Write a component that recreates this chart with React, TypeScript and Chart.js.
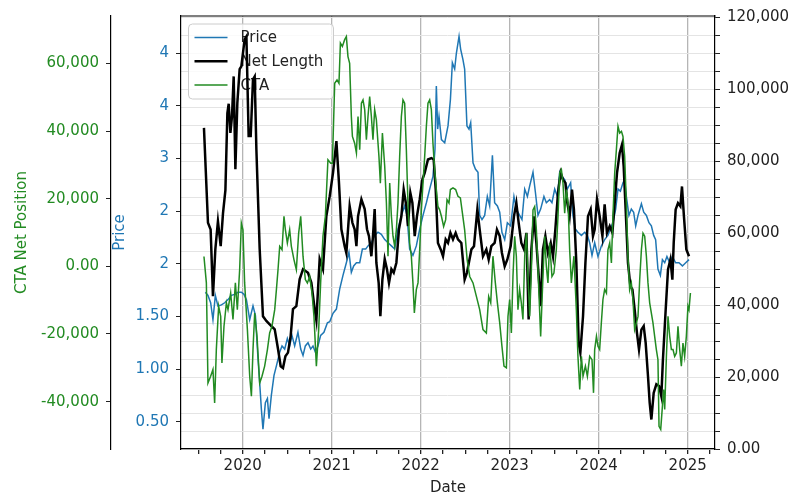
import { useEffect, useRef } from "react";
import { Chart, registerables } from "chart.js";

Chart.register(...registerables);

// ---------- data (decimal-year dates) ----------
const priceDates = [
  2019.581, 2019.61, 2019.64, 2019.666, 2019.693, 2019.722, 2019.761, 2019.798, 2019.835, 2019.873,
  2019.91, 2019.947, 2019.985, 2020.015, 2020.042, 2020.079, 2020.116, 2020.143, 2020.172, 2020.191,
  2020.21, 2020.228, 2020.255, 2020.278, 2020.296, 2020.322, 2020.352, 2020.379, 2020.416, 2020.442,
  2020.472, 2020.502, 2020.528, 2020.554, 2020.584, 2020.621, 2020.652, 2020.678, 2020.704, 2020.734,
  2020.764, 2020.79, 2020.817, 2020.846, 2020.876, 2020.913, 2020.952, 2020.978, 2021.015, 2021.053,
  2021.09, 2021.127, 2021.165, 2021.194, 2021.221, 2021.247, 2021.278, 2021.315, 2021.345, 2021.382,
  2021.408, 2021.446, 2021.483, 2021.52, 2021.558, 2021.596, 2021.633, 2021.671, 2021.708, 2021.745,
  2021.783, 2021.82, 2021.846, 2021.876, 2021.913, 2021.951, 2021.989, 2022.026, 2022.064, 2022.101,
  2022.138, 2022.161, 2022.176, 2022.191, 2022.206, 2022.233, 2022.27, 2022.307, 2022.334, 2022.356,
  2022.382, 2022.401, 2022.431, 2022.449, 2022.475, 2022.494, 2022.52, 2022.543, 2022.562, 2022.588,
  2022.615, 2022.644, 2022.663, 2022.689, 2022.719, 2022.749, 2022.775, 2022.806, 2022.831, 2022.862,
  2022.888, 2022.913, 2022.944, 2022.974, 2023.011, 2023.048, 2023.075, 2023.112, 2023.138, 2023.169,
  2023.199, 2023.225, 2023.262, 2023.289, 2023.318, 2023.348, 2023.385, 2023.412, 2023.449, 2023.475,
  2023.506, 2023.536, 2023.562, 2023.588, 2023.618, 2023.648, 2023.685, 2023.711, 2023.738, 2023.767,
  2023.806, 2023.843, 2023.873, 2023.899, 2023.925, 2023.955, 2023.992, 2024.03, 2024.067, 2024.104,
  2024.131, 2024.16, 2024.191, 2024.217, 2024.244, 2024.273, 2024.292, 2024.311, 2024.34, 2024.367,
  2024.393, 2024.416, 2024.442, 2024.48, 2024.506, 2024.536, 2024.565, 2024.592, 2024.618, 2024.64,
  2024.666, 2024.693, 2024.716, 2024.742, 2024.767, 2024.798, 2024.828, 2024.865, 2024.902, 2024.941,
  2024.978, 2025.015,
];
const priceValues = [
  1.73, 1.7, 1.63, 1.47, 1.7, 1.6, 1.61, 1.63, 1.66, 1.7,
  1.71, 1.73, 1.73, 1.71, 1.66, 1.47, 1.6, 1.51, 1.1, 0.87,
  0.62, 0.43, 0.68, 0.72, 0.53, 0.75, 0.94, 1.03, 1.16, 1.22,
  1.19, 1.29, 1.22, 1.32, 1.22, 1.35, 1.19, 1.13, 1.22, 1.25,
  1.19, 1.22, 1.16, 1.22, 1.32, 1.35, 1.44, 1.45, 1.53, 1.57,
  1.76, 1.89, 2.01, 2.11, 1.92, 1.98, 2.01, 2.01, 2.14, 2.14,
  2.17, 2.2, 2.27, 2.3, 2.28, 2.23, 2.2, 2.17, 2.14, 2.33,
  2.46, 2.55, 2.46, 2.14, 2.08, 2.17, 2.33, 2.46, 2.58, 2.71,
  2.83, 3.09, 3.69, 3.28, 3.4, 3.18, 3.15, 3.31, 3.56, 3.91,
  3.85, 4.0, 4.16, 4.04, 3.94, 3.85, 3.31, 3.28, 3.34, 2.96,
  2.9, 2.87, 2.46, 2.42, 2.46, 2.64, 2.55, 3.03, 2.58, 2.55,
  2.49, 2.3, 2.23, 2.39, 2.36, 2.64, 2.52, 2.46, 2.42, 2.71,
  2.64, 2.74, 2.87, 2.68, 2.46, 2.52, 2.64, 2.58, 2.61, 2.58,
  2.71, 2.64, 2.87, 2.83, 2.8, 2.71, 2.77, 2.46, 2.33, 2.3,
  2.27, 2.3, 2.27, 2.2, 2.08, 2.2, 2.07, 2.17, 2.23, 2.27,
  2.33, 2.39, 2.52, 2.71, 2.69, 2.77, 2.8, 2.64, 2.46, 2.52,
  2.49, 2.36, 2.46, 2.57, 2.49, 2.46, 2.39, 2.36, 2.27, 2.23,
  1.95, 1.89, 2.04, 2.01, 2.07, 2.01, 2.07, 2.01, 2.01, 1.98,
  2.01, 2.04,
];

const netLengthDates = [
  2019.565, 2019.61, 2019.64, 2019.666, 2019.693, 2019.722, 2019.753, 2019.779, 2019.806, 2019.828,
  2019.843, 2019.862, 2019.88, 2019.899, 2019.918, 2019.94, 2019.966, 2019.985, 2020.022, 2020.042,
  2020.067, 2020.09, 2020.116, 2020.135, 2020.154, 2020.191, 2020.228, 2020.266, 2020.322, 2020.36,
  2020.397, 2020.427, 2020.453, 2020.48, 2020.509, 2020.539, 2020.565, 2020.603, 2020.64, 2020.678,
  2020.734, 2020.772, 2020.809, 2020.828, 2020.865, 2020.902, 2020.94, 2020.978, 2021.015, 2021.053,
  2021.082, 2021.109, 2021.146, 2021.165, 2021.202, 2021.233, 2021.258, 2021.278, 2021.296, 2021.334,
  2021.371, 2021.397, 2021.419, 2021.446, 2021.464, 2021.483, 2021.502, 2021.528, 2021.547, 2021.57,
  2021.596, 2021.621, 2021.644, 2021.671, 2021.697, 2021.727, 2021.756, 2021.783, 2021.809, 2021.839,
  2021.857, 2021.884, 2021.907, 2021.933, 2021.958, 2021.989, 2022.019, 2022.045, 2022.082, 2022.12,
  2022.146, 2022.169, 2022.194, 2022.225, 2022.251, 2022.281, 2022.307, 2022.334, 2022.363, 2022.393,
  2022.419, 2022.457, 2022.494, 2022.52, 2022.57, 2022.599, 2022.637, 2022.663, 2022.7, 2022.738,
  2022.764, 2022.794, 2022.831, 2022.857, 2022.888, 2022.913, 2022.944, 2022.974, 2023.011, 2023.048,
  2023.075, 2023.101, 2023.131, 2023.161, 2023.188, 2023.213, 2023.244, 2023.273, 2023.3, 2023.326,
  2023.348, 2023.374, 2023.401, 2023.43, 2023.461, 2023.487, 2023.513, 2023.543, 2023.573, 2023.599,
  2023.626, 2023.648, 2023.674, 2023.7, 2023.722, 2023.749, 2023.775, 2023.794, 2023.824, 2023.851,
  2023.88, 2023.91, 2023.936, 2023.955, 2023.981, 2024.011, 2024.042, 2024.067, 2024.093, 2024.124,
  2024.154, 2024.18, 2024.206, 2024.236, 2024.262, 2024.281, 2024.303, 2024.329, 2024.356, 2024.379,
  2024.404, 2024.43, 2024.453, 2024.48, 2024.506, 2024.528, 2024.554, 2024.573, 2024.592, 2024.618,
  2024.648, 2024.678, 2024.704, 2024.722, 2024.753, 2024.779, 2024.806, 2024.828, 2024.843, 2024.865,
  2024.891, 2024.918, 2024.936, 2024.958, 2024.985, 2025.015,
];
const netLengthValues = [
  89300, 62900, 61000, 42500, 55600, 63300, 56400, 65600, 72000, 93400,
  96000, 87900, 92500, 103600, 77800, 96200, 105600, 106400, 113900, 114700,
  87000, 87000, 102800, 103600, 83300, 55600, 36900, 35600, 34200, 33300,
  27800, 23000, 22500, 25800, 26800, 31400, 38900, 39700, 47200, 50000,
  49000, 46200, 38900, 35800, 52800, 50000, 64700, 70300, 76800, 85600,
  74000, 61100, 56400, 54500, 67500, 62900, 61100, 56400, 64700, 69400,
  66700, 61100, 59200, 53600, 59200, 66700, 51800, 46200, 36900, 47200,
  52800, 50000, 46200, 50000, 49000, 51800, 61100, 64700, 72100, 67500,
  62000, 71200, 68400, 59200, 64700, 69400, 74900, 76800, 80500, 80900,
  80500, 72100, 57300, 55500, 53600, 58300, 57300, 60100, 58300, 60100,
  58300, 57300, 47100, 49000, 55500, 56400, 66600, 61000, 53600, 55500,
  52700, 56400, 57300, 61000, 59200, 54500, 50800, 52700, 56400, 64700,
  68400, 62900, 57300, 55500, 60100, 36000, 55500, 64700, 57300, 48100,
  39700, 55500, 59200, 54500, 57300, 53600, 61000, 71200, 76800, 74900,
  74000, 68400, 64700, 72100, 66600, 51800, 29500, 26800, 36900, 51800,
  64700, 66600, 59200, 61000, 69400, 64700, 59200, 68000, 60100, 62000,
  60100, 68400, 76800, 82300, 84600, 78600, 66600, 51800, 45300, 44400,
  38800, 32300, 27700, 33200, 34200, 29500, 20300, 12900, 8200, 15600,
  18000, 17500, 14700, 24900, 38800, 49900, 52700, 47100, 57300, 66600,
  68400, 67500, 73000, 64700, 55500, 53600,
];

const ctaDates = [
  2019.565, 2019.592, 2019.61, 2019.64, 2019.666, 2019.685, 2019.704, 2019.73, 2019.753, 2019.767,
  2019.79, 2019.817, 2019.835, 2019.865, 2019.891, 2019.918, 2019.94, 2019.966, 2019.985, 2020.003,
  2020.022, 2020.053, 2020.079, 2020.098, 2020.116, 2020.135, 2020.161, 2020.191, 2020.217, 2020.247,
  2020.278, 2020.303, 2020.329, 2020.36, 2020.379, 2020.397, 2020.416, 2020.442, 2020.464, 2020.48,
  2020.502, 2020.528, 2020.547, 2020.576, 2020.603, 2020.629, 2020.652, 2020.678, 2020.704, 2020.727,
  2020.753, 2020.779, 2020.801, 2020.828, 2020.854, 2020.876, 2020.902, 2020.929, 2020.958, 2020.989,
  2021.008, 2021.034, 2021.06, 2021.082, 2021.098, 2021.12, 2021.146, 2021.165, 2021.183, 2021.202,
  2021.221, 2021.233, 2021.258, 2021.278, 2021.296, 2021.315, 2021.334, 2021.352, 2021.371, 2021.39,
  2021.408, 2021.427, 2021.446, 2021.464, 2021.483, 2021.502, 2021.531, 2021.547, 2021.57, 2021.596,
  2021.615, 2021.633, 2021.652, 2021.671, 2021.689, 2021.708, 2021.727, 2021.745, 2021.764, 2021.783,
  2021.801, 2021.82, 2021.839, 2021.857, 2021.876, 2021.895, 2021.913, 2021.929, 2021.951, 2021.97,
  2021.989, 2022.008, 2022.026, 2022.045, 2022.064, 2022.082, 2022.101, 2022.12, 2022.138, 2022.157,
  2022.176, 2022.194, 2022.213, 2022.233, 2022.258, 2022.281, 2022.296, 2022.318, 2022.334, 2022.363,
  2022.393, 2022.419, 2022.446, 2022.469, 2022.494, 2022.522, 2022.551, 2022.588, 2022.626, 2022.663,
  2022.7, 2022.738, 2022.764, 2022.787, 2022.812, 2022.839, 2022.862, 2022.888, 2022.913, 2022.936,
  2022.963, 2022.981, 2023.0, 2023.019, 2023.037, 2023.056, 2023.075, 2023.093, 2023.112, 2023.131,
  2023.149, 2023.169, 2023.188, 2023.206, 2023.225, 2023.244, 2023.262, 2023.281, 2023.3, 2023.318,
  2023.348, 2023.374, 2023.393, 2023.412, 2023.43, 2023.449, 2023.475, 2023.497, 2023.524, 2023.543,
  2023.562, 2023.581, 2023.599, 2023.618, 2023.637, 2023.656, 2023.674, 2023.693, 2023.722, 2023.749,
  2023.767, 2023.787, 2023.806, 2023.824, 2023.851, 2023.873, 2023.899, 2023.925, 2023.942, 2023.955,
  2023.975, 2023.992, 2024.011, 2024.03, 2024.048, 2024.067, 2024.087, 2024.104, 2024.124, 2024.143,
  2024.16, 2024.18, 2024.199, 2024.217, 2024.236, 2024.256, 2024.273, 2024.292, 2024.311, 2024.329,
  2024.348, 2024.367, 2024.385, 2024.404, 2024.424, 2024.442, 2024.461, 2024.48, 2024.498, 2024.517,
  2024.536, 2024.554, 2024.573, 2024.61, 2024.629, 2024.648, 2024.666, 2024.678, 2024.697, 2024.716,
  2024.73, 2024.742, 2024.761, 2024.779, 2024.798, 2024.817, 2024.835, 2024.854, 2024.873, 2024.891,
  2024.91, 2024.929, 2024.947, 2024.966, 2024.985, 2025.003, 2025.015, 2025.031,
];
const ctaValues = [
  2900, -4900, -34500, -32500, -30500, -40400, -24600, -11800, -14800, -28600,
  -17700, -10800, -12800, -7900, -15700, -4900, -12800, -1000, 12800, 10800,
  -4900, -18700, -32500, -38400, -24600, -13800, -20700, -34500, -32500, -29500,
  -24600, -19700, -17700, -12800, -6900, -1000, 5900, 4900, 14800, 10800,
  6900, 10800, 5900, 2000, -1000, 9800, 14800, 3000, -3900, -4900,
  -3000, -7900, -14800, -29500, -18700, -4900, 8900, 14800, 31500, 30500,
  30500, 54100, 55100, 54100, 66000, 65000, 67000, 67900, 62000, 60000,
  44300, 38400, 36400, 33500, 44300, 34500, 48200, 49200, 46300, 37400,
  44300, 50200, 44300, 37400, 46300, 43400, 32500, 24600, 39400, 29500,
  18700, 3000, 24600, 14800, 8900, 5900, 10800, 18700, 32500, 44300,
  49200, 48200, 34500, 18700, 6900, 3000, -4900, -13800, -6900, -4900,
  4900, 16700, 24600, 32500, 41400, 48200, 49200, 46300, 36400, 28600,
  22700, 17700, 16700, 14800, 11800, 13800, 19700, 18700, 22700, 23200,
  22700, 20700, 20200, 15700, 10800, 2000, -3000, -4900, -8900, -12800,
  -18700, -19700, -8900, -10800, 3000, -4900, -10800, -16700, -23600, -29500,
  -30000, -14800, -9800, -19700, -3000, 8900, 3000, -12800, -6900, -10800,
  -15700, 3000, 9800, -3000, -14800, -1000, 16700, 17700, 10800, -1000,
  -20700, -3000, 8900, 0, -4900, 6900, -3000, -2000, 4900, 14800,
  27600, 28600, 24600, 15700, 22700, 18700, 4900, -4900, 3000, -12800,
  -26600, -36400, -26600, -32500, -29500, -32500, -26600, -27600, -37400, -24600,
  -20700, -23600, -24600, -16700, -9800, -6900, -7900, 4900, 6900, 1000,
  14800, 27600, 34500, 41400, 39400, 39900, 38400, 32500, 18700, 3000,
  -6900, -4900, -9800, -18700, -16700, -14800, -3900, 4900, 9800, 8900,
  3000, -4900, -10800, -16700, -20700, -24600, -27600, -47300, -48200, -41400,
  -36400, -42300, -26600, -14800, -20700, -24600, -24600, -26600, -25600, -17700,
  -24600, -29500, -22700, -26600, -20700, -11800, -12800, -7900,
];

// ---------- tick values / labels ----------
const yearTicks = [2020, 2021, 2022, 2023, 2024, 2025];
const quarterTicks = [
  2019.5, 2019.75, 2020, 2020.25, 2020.5, 2020.75, 2021, 2021.25, 2021.5, 2021.75,
  2022, 2022.25, 2022.5, 2022.75, 2023, 2023.25, 2023.5, 2023.75, 2024, 2024.25,
  2024.5, 2024.75, 2025, 2025.25,
];
const priceTickValues = [0.5, 1, 1.5, 2, 2.5, 3, 3.5, 4];
const priceTickLabels = ["0.50", "1.00", "1.50", "2", "2", "3", "4", "4"];
const ctaTickValues = [-40000, -20000, 0, 20000, 40000, 60000];
const ctaTickLabels = ["-40,000", "-20,000", "0.00", "20,000", "40,000", "60,000"];
const netMajorTicks = [0, 20000, 40000, 60000, 80000, 100000, 120000];
const netMajorLabels = ["0.00", "20,000", "40,000", "60,000", "80,000", "100,000", "120,000"];
const netMinorStep = 5000;

const seriesLabels = ["Price", "Net Length", "CTA"];

const PRICE_COLOR = "#1f77b4";
const NET_COLOR = "#000000";
const CTA_COLOR = "#228b22";
const TEXT_COLOR = "#222222";

const near = (a: number, b: number) => Math.abs(a - b) < 1e-6;
const labelFor = (vals: number[], labels: string[], v: number) => {
  const i = vals.findIndex((p) => near(p, v));
  return i >= 0 ? labels[i] : "";
};
const setTicks = (vals: number[]) => (s: any) => {
  s.ticks = vals.map((value) => ({ value }));
};
const netTickValues: number[] = [];
for (let v = netMajorTicks[0]; v <= netMajorTicks[netMajorTicks.length - 1]; v += netMinorStep) netTickValues.push(v);

const toPoints = (xs: number[], ys: number[]) => ys.map((y, i) => ({ x: xs[i], y }));

const frameLegendPlugin = {
  id: "frameLegend",
  afterDatasetDraw(chart: any, args: any) {
    if (args.index !== 0) return;
    const { ctx, chartArea: a } = chart;
    const x0 = a.left + 7.5;
    const y0 = a.top + 8;
    const w = 145;
    const h = 75;
    ctx.save();
    ctx.beginPath();
    if (ctx.roundRect) ctx.roundRect(x0, y0, w, h, 4);
    else ctx.rect(x0, y0, w, h);
    ctx.fillStyle = "rgba(255,255,255,0.8)";
    ctx.fill();
    ctx.strokeStyle = "#cccccc";
    ctx.lineWidth = 1;
    ctx.stroke();
    chart.data.datasets.forEach((ds: any, i: number) => {
      const yy = y0 + 13.5 + i * 23.8;
      ctx.beginPath();
      ctx.moveTo(x0 + 6, yy);
      ctx.lineTo(x0 + 39, yy);
      ctx.strokeStyle = ds.borderColor;
      ctx.lineWidth = ds.borderWidth;
      ctx.stroke();
      ctx.fillStyle = TEXT_COLOR;
      ctx.font = '15px "DejaVu Sans", sans-serif';
      ctx.textBaseline = "middle";
      ctx.textAlign = "left";
      ctx.fillText(ds.label, x0 + 52, yy + 1);
    });
    ctx.restore();
  },
  afterDraw(chart: any) {
    const { ctx, chartArea: a } = chart;
    ctx.save();
    ctx.beginPath();
    ctx.moveTo(a.left - 0.6, a.top);
    ctx.lineTo(a.right + 0.6, a.top);
    ctx.strokeStyle = "#000";
    ctx.lineWidth = 1.2;
    ctx.stroke();
    ctx.restore();
  },
};

export default function App() {
  const ref = useRef<HTMLCanvasElement | null>(null);

  useEffect(() => {
    if (!ref.current) return;
    Chart.defaults.font.family = '"DejaVu Sans", sans-serif';
    Chart.defaults.font.size = 15;
    Chart.defaults.color = TEXT_COLOR;

    const chart = new Chart(ref.current, {
      type: "line",
      data: {
        datasets: [
          {
            label: seriesLabels[0],
            data: toPoints(priceDates, priceValues),
            yAxisID: "yPrice",
            borderColor: PRICE_COLOR,
            borderWidth: 1.5,
            pointRadius: 0,
            tension: 0,
            order: 3,
          },
          {
            label: seriesLabels[1],
            data: toPoints(netLengthDates, netLengthValues),
            yAxisID: "yNet",
            borderColor: NET_COLOR,
            borderWidth: 2.5,
            pointRadius: 0,
            tension: 0,
            order: 2,
          },
          {
            label: seriesLabels[2],
            data: toPoints(ctaDates, ctaValues),
            yAxisID: "yCta",
            borderColor: CTA_COLOR,
            borderWidth: 1.5,
            pointRadius: 0,
            tension: 0,
            order: 1,
          },
        ],
      },
      options: {
        animation: false,
        responsive: false,
        events: [],
        layout: { padding: { top: 16, left: 0, right: 0, bottom: 0 } },
        plugins: { legend: { display: false }, tooltip: { enabled: false } },
        scales: {
          x: {
            type: "linear",
            position: "bottom",
            min: 2019.307,
            max: 2025.307,
            bounds: "data",
            afterBuildTicks: setTicks(quarterTicks),
            afterFit: (s: any) => {
              s.height = 51;
            },
            ticks: {
              autoSkip: false,
              maxRotation: 0,
              padding: 3,
              color: TEXT_COLOR,
              callback: (v: any) => labelFor(yearTicks, yearTicks.map(String), v),
            },
            grid: {
              color: (c: any) =>
                c.tick && yearTicks.some((y) => near(y, c.tick.value)) ? "#b5b5b5" : "rgba(0,0,0,0)",
              lineWidth: 1.3,
              tickColor: TEXT_COLOR,
              tickLength: 5,
            },
            border: { color: "#000", width: 1.2 },
            title: { display: true, text: "Date", color: TEXT_COLOR, padding: { top: 0, bottom: 3 } },
          },
          yPrice: {
            type: "linear",
            position: "left",
            weight: 0,
            min: 0.241,
            max: 4.354,
            bounds: "data",
            afterBuildTicks: setTicks(priceTickValues),
            afterFit: (s: any) => {
              s.width = 70;
            },
            ticks: {
              autoSkip: false,
              padding: 7,
              color: PRICE_COLOR,
              callback: (v: any) => labelFor(priceTickValues, priceTickLabels, v),
            },
            grid: { drawOnChartArea: false, tickLength: 5, tickColor: TEXT_COLOR },
            border: { color: "#000", width: 1.2 },
            title: { display: true, text: "Price", color: PRICE_COLOR, padding: { top: 0, bottom: 0 } },
          },
          yCta: {
            type: "linear",
            position: "left",
            weight: 1,
            min: -54000,
            max: 74000,
            bounds: "data",
            afterBuildTicks: setTicks(ctaTickValues),
            afterFit: (s: any) => {
              s.width = 111;
            },
            ticks: {
              autoSkip: false,
              padding: 7,
              color: CTA_COLOR,
              callback: (v: any) => labelFor(ctaTickValues, ctaTickLabels, v),
            },
            grid: { drawOnChartArea: false, tickLength: 5, tickColor: TEXT_COLOR },
            border: { color: "#000", width: 1.2 },
            title: {
              display: true,
              text: "CTA Net Position",
              color: CTA_COLOR,
              padding: { top: 13, bottom: 0 },
            },
          },
          yNet: {
            type: "linear",
            position: "right",
            min: 0,
            max: 120400,
            bounds: "data",
            afterBuildTicks: setTicks(netTickValues),
            afterFit: (s: any) => {
              s.width = 81;
            },
            ticks: {
              autoSkip: false,
              padding: 7,
              color: TEXT_COLOR,
              callback: (v: any) => labelFor(netMajorTicks, netMajorLabels, v),
            },
            grid: { color: "#e4e4e4", lineWidth: 1, tickLength: 5, tickColor: TEXT_COLOR },
            border: { color: "#000", width: 1.2 },
          },
        },
      } as any,
      plugins: [frameLegendPlugin],
    });
    return () => chart.destroy();
  }, []);

  return (
    <div style={{ position: "absolute", left: 0, top: 0, width: 796, height: 500, background: "#fff" }}>
      <canvas ref={ref} width={796} height={500} style={{ width: 796, height: 500, display: "block" }} />
    </div>
  );
}
